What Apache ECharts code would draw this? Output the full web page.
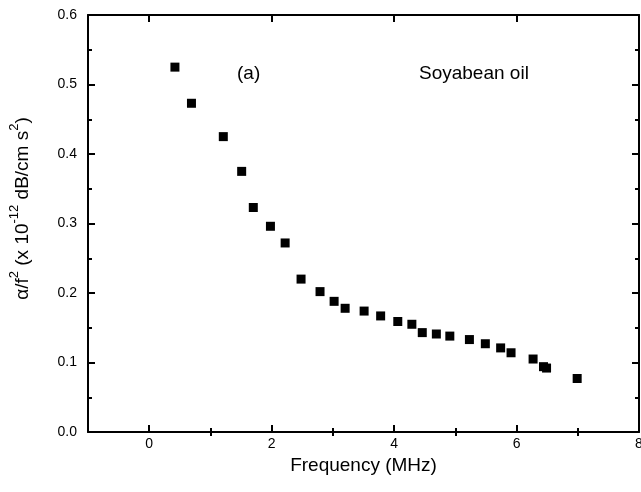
<!DOCTYPE html>
<html>
<head>
<meta charset="utf-8">
<script src="https://cdn.jsdelivr.net/npm/echarts@6/dist/echarts.min.js"></script>
<style>html,body{margin:0;padding:0;background:#fff;overflow:hidden}#c{width:641px;height:492px}</style>
</head>
<body>
<div id="c"></div>
<script>
// Data
const frequency = [0.42, 0.69, 1.21, 1.51, 1.70, 1.98, 2.22, 2.48, 2.79, 3.02, 3.20, 3.51, 3.78, 4.06, 4.29, 4.46, 4.69, 4.91, 5.23, 5.49, 5.74, 5.91, 6.27, 6.44, 6.49, 6.99];
const attenuation = [0.525, 0.473, 0.425, 0.375, 0.323, 0.296, 0.272, 0.220, 0.202, 0.188, 0.178, 0.174, 0.167, 0.159, 0.155, 0.143, 0.141, 0.138, 0.133, 0.127, 0.121, 0.114, 0.105, 0.094, 0.092, 0.077];
const xMajorTicks = [0, 2, 4, 6, 8];
const xMinorTicks = [1, 3, 5, 7];
const yTicks = [0, 0.1, 0.2, 0.3, 0.4, 0.5, 0.6];

const points = frequency.map((f, i) => [f, attenuation[i]]);
const FONT = '"Liberation Sans", Arial, Helvetica, sans-serif';
const black = '#000';

const chart = echarts.init(document.getElementById('c'), null, {renderer: 'canvas', width: 641, height: 492});
const baseX = {
  type: 'value', min: -1, max: 8, splitLine: {show: false},
  axisLine: {show: true, onZero: false, lineStyle: {color: black, width: 2}}
};
chart.setOption({
  animation: false,
  backgroundColor: '#fff',
  grid: {left: 88, right: 2, top: 15, bottom: 60, containLabel: false, outerBoundsMode: 'none'},
  xAxis: [
    Object.assign({}, baseX, {
      position: 'bottom',
      name: 'Frequency (MHz)', nameLocation: 'middle', nameGap: 21,
      nameTextStyle: {fontFamily: FONT, fontSize: 19, color: black},
      axisTick: {show: true, inside: true, length: 7, customValues: xMajorTicks.slice(0, 4), lineStyle: {color: black, width: 2}},
      axisLabel: {show: true, customValues: xMajorTicks, fontFamily: FONT, fontSize: 14, color: black, margin: 5}
    }),
    Object.assign({}, baseX, {
      position: 'bottom', axisLine: {show: false},
      axisTick: {show: true, inside: true, length: 4, customValues: xMinorTicks, lineStyle: {color: black, width: 2}},
      axisLabel: {show: false}
    }),
    Object.assign({}, baseX, {
      position: 'top',
      axisTick: {show: true, inside: true, length: 7, customValues: xMajorTicks.slice(0, 4), lineStyle: {color: black, width: 2}},
      axisLabel: {show: false}
    }),
    Object.assign({}, baseX, {
      position: 'top', axisLine: {show: false},
      axisTick: {show: true, inside: true, length: 4, customValues: xMinorTicks, lineStyle: {color: black, width: 2}},
      axisLabel: {show: false}
    })
  ],
  yAxis: [
    {
      type: 'value', min: 0, max: 0.6, interval: 0.1, position: 'left',
      splitLine: {show: false},
      axisLine: {show: true, onZero: false, lineStyle: {color: black, width: 2}},
      axisTick: {show: true, inside: true, length: 7, customValues: yTicks.slice(1, 6), lineStyle: {color: black, width: 2}},
      minorTick: {show: true, splitNumber: 2, length: 4, lineStyle: {color: black, width: 2}},
      axisLabel: {fontFamily: FONT, fontSize: 14, color: black, margin: 11, formatter: v => v.toFixed(1)},
      name: '{a|α/f}{s|2}{a| (x 10}{s|-12}{a| dB/cm s}{s|2}{a|)}',
      nameLocation: 'middle', nameGap: 56, nameRotate: 90,
      nameTextStyle: {
        color: black,
        padding: [0, 0, 0, 30],
        rich: {
          a: {fontFamily: FONT, fontSize: 19, color: black, lineHeight: 24, verticalAlign: 'bottom'},
          s: {fontFamily: FONT, fontSize: 13, color: black, lineHeight: 24, verticalAlign: 'top', padding: [0, 0, 10, 0]}
        }
      }
    },
    {
      type: 'value', min: 0, max: 0.6, interval: 0.1, position: 'right',
      splitLine: {show: false},
      axisLine: {show: true, onZero: false, lineStyle: {color: black, width: 2}},
      axisTick: {show: true, inside: true, length: 7, customValues: yTicks.slice(1, 6), lineStyle: {color: black, width: 2}},
      minorTick: {show: true, splitNumber: 2, length: 4, lineStyle: {color: black, width: 2}},
      axisLabel: {show: false}
    }
  ],
  series: [{
    type: 'scatter', xAxisIndex: 0, yAxisIndex: 0,
    data: points, symbol: 'rect', symbolSize: 9,
    itemStyle: {color: black, opacity: 1}
  }],
  graphic: [
    {type: 'text', left: 237, top: 64, style: {text: '(a)', font: '19px ' + FONT, fill: black}},
    {type: 'text', left: 419, top: 64, style: {text: 'Soyabean oil', font: '19px ' + FONT, fill: black}}
  ]
});
</script>
</body>
</html>
